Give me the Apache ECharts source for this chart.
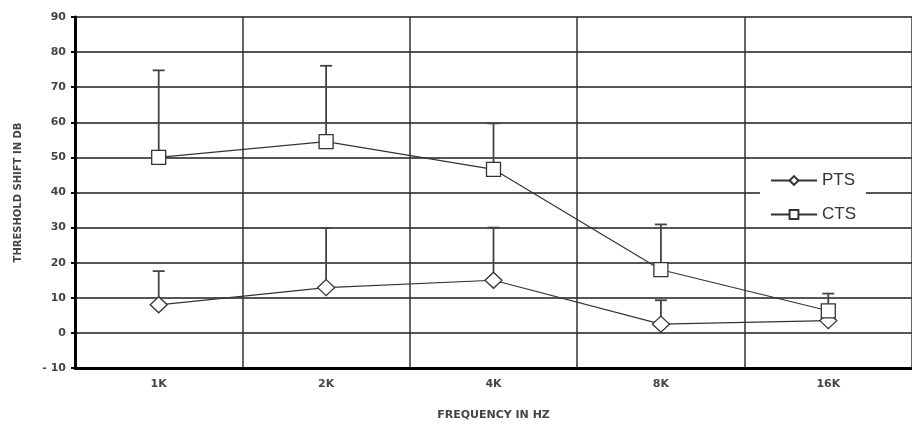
<!DOCTYPE html>
<html>
<head>
<meta charset="utf-8">
<script src="https://cdn.jsdelivr.net/npm/echarts@6/dist/echarts.min.js"></script>
<style>
  html, body { margin: 0; padding: 0; background: #fff; }
  #chart { width: 912px; height: 427px; }
</style>
</head>
<body>
<div id="chart"></div>
<script>
// values
const categories = ['1K', '2K', '4K', '8K', '16K']
const ptsValues = [8, 12.9, 15, 2.5, 3.5]
const ptsErrors = [9.6, 17, 15, 6.8, 3]
const ctsValues = [50, 54.5, 46.6, 18, 6.3]
const ctsErrors = [24.8, 21.6, 13.1, 12.9, 4.9]
const yTicks = { min: -10, max: 90, step: 10 }

const lineColor = '#333'

function errorSeries(name, values, errors) {
  return {
    name: name + ' err',
    type: 'custom',
    z: 1,
    silent: true,
    data: values.map((v, i) => [i, v, v + errors[i]]),
    renderItem(params, api) {
      const base = api.coord([api.value(0), api.value(1)])
      const top = api.coord([api.value(0), api.value(2)])
      const cap = 6
      const style = { stroke: '#444', lineWidth: 1.8 }
      return {
        type: 'group',
        children: [
          { type: 'line', shape: { x1: base[0], y1: base[1], x2: top[0], y2: top[1] }, style },
          { type: 'line', shape: { x1: top[0] - cap, y1: top[1], x2: top[0] + cap, y2: top[1] }, style }
        ]
      }
    }
  }
}

const chart = echarts.init(document.getElementById('chart'))
chart.setOption({
  animation: false,
  backgroundColor: '#fff',
  grid: { left: 75, right: -3, top: 17, bottom: 59 },
  legend: {
    data: ['PTS', 'CTS'],
    orient: 'vertical',
    left: 760,
    top: 169,
    backgroundColor: '#fff',
    padding: [3, 10],
    itemWidth: 46,
    itemHeight: 11,
    itemGap: 17,
    textStyle: { fontSize: 17, color: '#333', fontFamily: 'Liberation Sans' }
  },
  xAxis: {
    type: 'category',
    data: categories,
    name: 'FREQUENCY IN HZ',
    nameLocation: 'middle',
    nameGap: 42,
    nameTextStyle: { fontSize: 11, fontWeight: 'bold', color: '#444', fontFamily: 'DejaVu Sans' },
    axisLine: { onZero: false, lineStyle: { color: '#000', width: 3 } },
    axisTick: { length: 4, lineStyle: { color: '#000', width: 2 } },
    axisLabel: { fontSize: 11, fontWeight: 'bold', color: '#444', margin: 11, fontFamily: 'DejaVu Sans' },
    splitLine: { show: true, lineStyle: { color: '#333', width: 1.5 } }
  },
  yAxis: {
    type: 'value',
    min: yTicks.min,
    max: yTicks.max,
    interval: yTicks.step,
    name: 'THRESHOLD SHIFT IN DB',
    nameLocation: 'middle',
    nameRotate: 90,
    nameGap: 52,
    nameTextStyle: { fontSize: 10, fontWeight: 'bold', color: '#444', fontFamily: 'DejaVu Sans' },
    axisLine: { show: true, lineStyle: { color: '#000', width: 3 } },
    axisTick: { show: true, length: 4, lineStyle: { color: '#000', width: 2 } },
    axisLabel: {
      fontSize: 11, fontWeight: 'bold', color: '#444', margin: 9, fontFamily: 'DejaVu Sans',
      formatter: v => (v < 0 ? '- ' + Math.abs(v) : String(v))
    },
    splitLine: { lineStyle: { color: '#555', width: 2 } }
  },
  series: [
    errorSeries('PTS', ptsValues, ptsErrors),
    errorSeries('CTS', ctsValues, ctsErrors),
    {
      name: 'PTS',
      type: 'line',
      z: 3,
      data: ptsValues,
      symbol: 'diamond',
      symbolSize: [17, 16],
      showAllSymbol: true,
      lineStyle: { color: lineColor, width: 1.2 },
      itemStyle: { color: '#fff', borderColor: lineColor, borderWidth: 1.3 }
    },
    {
      name: 'CTS',
      type: 'line',
      z: 3,
      data: ctsValues,
      symbol: 'rect',
      symbolSize: 14,
      showAllSymbol: true,
      lineStyle: { color: lineColor, width: 1.2 },
      itemStyle: { color: '#fff', borderColor: lineColor, borderWidth: 1.3 }
    }
  ]
})
</script>
</body>
</html>
